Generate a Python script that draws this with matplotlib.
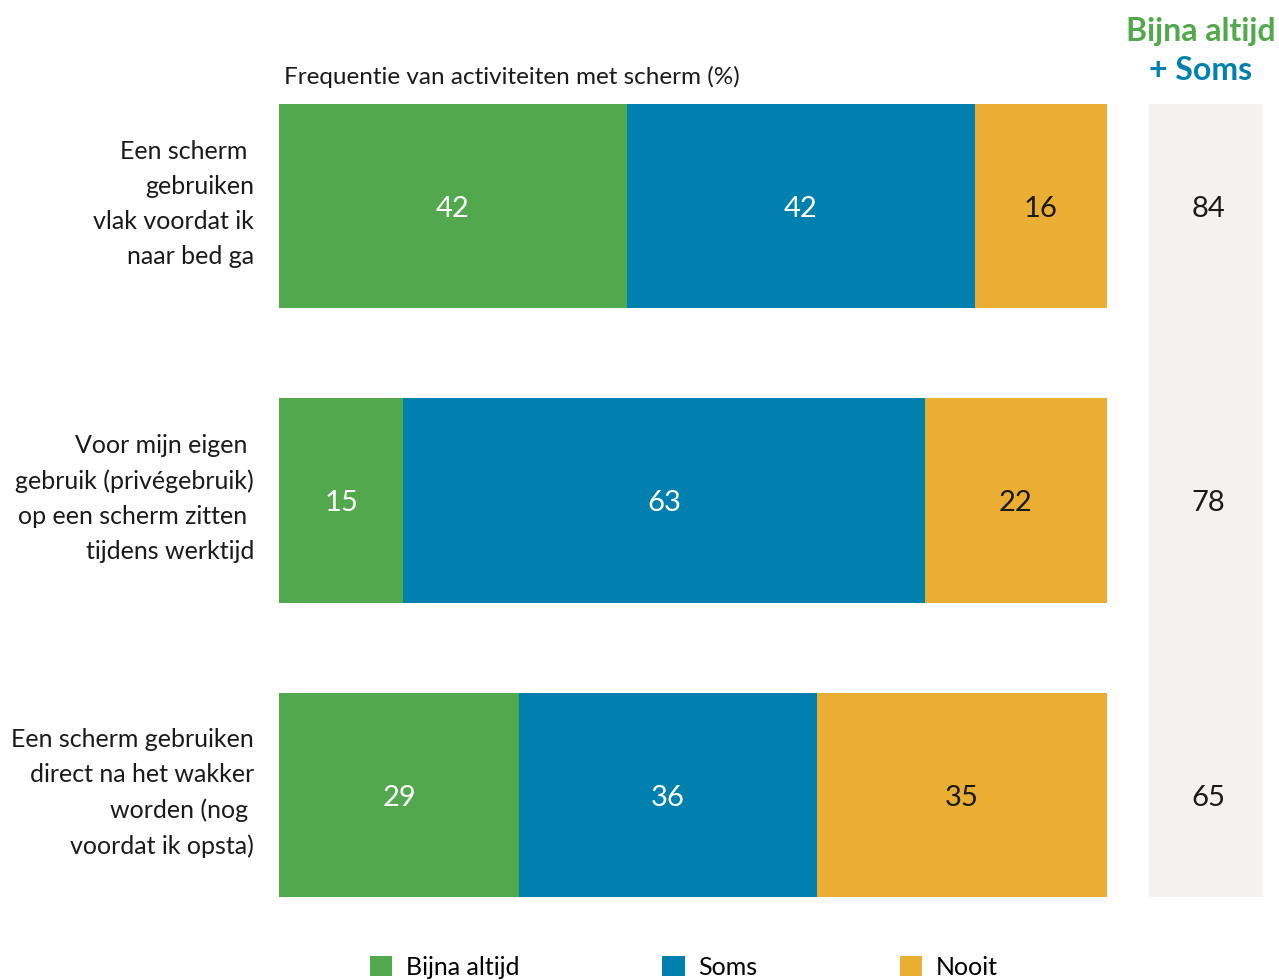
import matplotlib.pyplot as plt
from matplotlib.transforms import ScaledTranslation

plt.rcParams['font.family'] = ['Lato', 'DejaVu Sans']

# gegevens
activiteiten = [
    "Een scherm \ngebruiken\nvlak voordat ik\nnaar bed ga",
    "Voor mijn eigen \ngebruik (privégebruik)\nop een scherm zitten \ntijdens werktijd",
    "Een scherm gebruiken\ndirect na het wakker\nworden (nog \nvoordat ik opsta)",
]
bijna_altijd = [42, 15, 29]
soms = [42, 63, 36]
nooit = [16, 22, 35]
totaal = [84, 78, 65]

reeksen = ["Bijna altijd", "Soms", "Nooit"]
kleuren = ["#52a84c", "#0080ae", "#e9ae32"]
tekstkleur = ["white", "white", "#1a1a1a"]

fig = plt.figure(figsize=(12.79, 9.8), dpi=100)
ax = fig.add_axes([279 / 1279, 1 - 897 / 980, 828 / 1279, 793 / 980])

y = list(range(len(activiteiten)))
links = [0] * len(y)
for naam, waarden, kleur, tk in zip(reeksen, [bijna_altijd, soms, nooit], kleuren, tekstkleur):
    ax.barh(y, waarden, left=links, height=0.695, color=kleur, label=naam)
    for yi, l, w in zip(y, links, waarden):
        ax.text(l + w / 2, yi + 0.01, str(w), ha="center", va="center",
                fontsize=21, color=tk)
    links = [l + w for l, w in zip(links, waarden)]

ax.set_xlim(0, 100)
ax.set_ylim(2.347, -0.347)
ax.set_xticks([])
ax.set_yticks(y)
ax.set_yticklabels(activiteiten, fontsize=18, linespacing=1.62, color="#1a1a1a")
ax.tick_params(axis="y", length=0, pad=18)
omhoog = ScaledTranslation(0, 0.10, fig.dpi_scale_trans)
for lbl in ax.get_yticklabels():
    lbl.set_transform(lbl.get_transform() + omhoog)
for s in ax.spines.values():
    s.set_visible(False)

fig.text(284 / 1279, 1 - 77 / 980, "Frequentie van activiteiten met scherm (%)",
         fontsize=17.5, ha="left", va="center", color="#1a1a1a")

# kolom rechts: bijna altijd + soms
axr = fig.add_axes([1149 / 1279, 1 - 897 / 980, 114 / 1279, 793 / 980])
axr.set_facecolor("#f3f2ee")
axr.set_xlim(0, 1)
axr.set_ylim(2.347, -0.347)
axr.set_xticks([])
axr.set_yticks([])
for s in axr.spines.values():
    s.set_visible(False)
for yi, t in zip(y, totaal):
    axr.text(0.52, yi + 0.01, str(t), ha="center", va="center", fontsize=21, color="#1a1a1a")
fig.text(1201 / 1279, 1 - 31 / 980, "Bijna altijd", fontsize=23, fontweight="bold",
         color=kleuren[0], ha="center", va="center")
fig.text(1201 / 1279, 1 - 70 / 980, "+ Soms", fontsize=23, fontweight="bold",
         color=kleuren[1], ha="center", va="center")

fig.legend(loc="center", bbox_to_anchor=(684 / 1279, 1 - 967 / 980), ncol=3,
           frameon=False, fontsize=18, handlelength=0.9, handleheight=0.9,
           columnspacing=5.7, handletextpad=0.55)

fig.savefig("out.png", dpi=100)
